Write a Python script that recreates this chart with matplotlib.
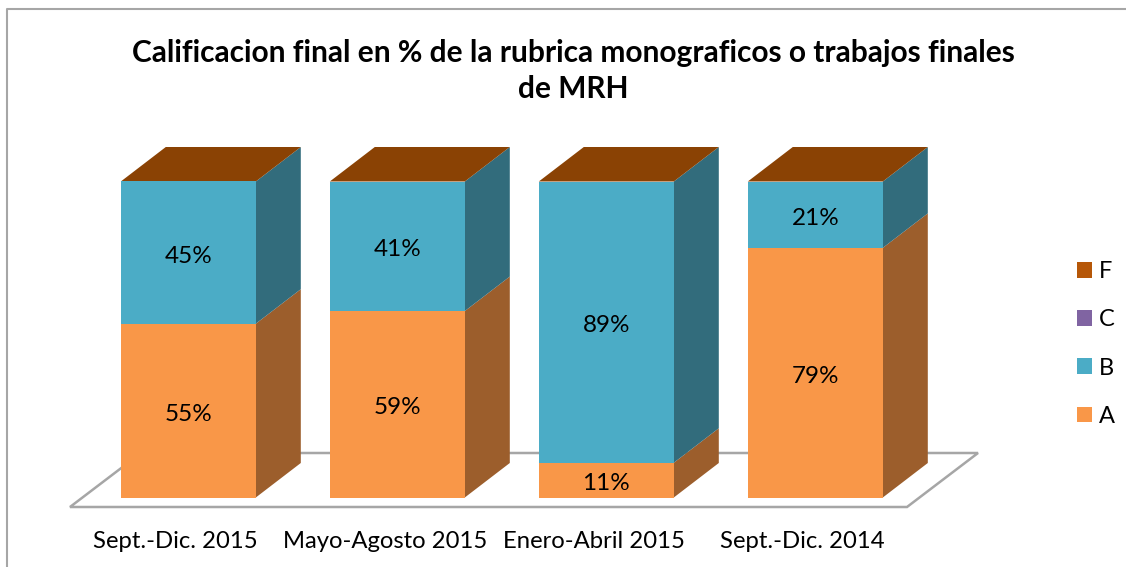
import matplotlib
matplotlib.use("Agg")
from matplotlib import pyplot as plt
from matplotlib.patches import Polygon, Patch

plt.rcParams["font.family"] = ["Lato", "DejaVu Sans"]

# chart values
categories = ["Sept.-Dic. 2015", "Mayo-Agosto 2015", "Enero-Abril 2015", "Sept.-Dic. 2014"]
grade_a = [55, 59, 11, 79]
grade_b = [45, 41, 89, 21]
grade_c = [0, 0, 0, 0]
grade_f = [0, 0, 0, 0]
series_names = ["A", "B", "C", "F"]
title = "Calificacion final en % de la rubrica monograficos o trabajos finales\nde MRH"

# colours
front = {"A": "#F99748", "B": "#4BACC6", "C": "#8064A2", "F": "#B65708"}
side = {"A": "#9C5E2C", "B": "#326C7C"}
top_colour = "#8A4204"
grey = "#A6A6A6"

# pixel layout of the original picture
W, H = 1126, 567
px_cat = 209.0      # px between categories
px_pct = 3.16       # px per percent
x0_px, y0_px = 188.3, 497.5

fig = plt.figure(figsize=(W / 100, H / 100), dpi=100)
ax = fig.add_axes([0, 0, 1, 1])
ax.set_xlim(-x0_px / px_cat, (W - x0_px) / px_cat)
ax.set_ylim(-(H - y0_px) / px_pct, y0_px / px_pct)
ax.axis("off")

bar_w = 135 / px_cat
dx = 45 / px_cat    # depth of the fake 3d
dy = 34.5 / px_pct
label_shift = 3.5 / px_pct  # labels sit a bit under the middle of the segment


def px(x, y):
    # picture pixel to data position
    return (x - x0_px) / px_cat, (y0_px - y) / px_pct


# chart frame, only left and top are visible
ax.plot(*zip(px(7, H), px(7, 9), px(W, 9)), color=grey, lw=1.5, solid_capstyle="butt", zorder=1)

# floor
floor = [px(70, 507), px(907, 507), px(978, 453), px(141, 453)]
ax.add_patch(Polygon(floor, closed=True, fc="white", ec=grey, lw=1.8, joinstyle="miter", zorder=2))

for i, cat in enumerate(categories):
    l = i - bar_w / 2
    r = i + bar_w / 2
    bottom = 0
    for name, vals in (("A", grade_a), ("B", grade_b)):
        v = vals[i]
        ax.bar(i, v, bar_w, bottom=bottom, color=front[name], lw=0, zorder=4)
        ax.add_patch(Polygon([(r, bottom), (r + dx, bottom + dy), (r + dx, bottom + v + dy), (r, bottom + v)],
                             closed=True, fc=side[name], lw=0, zorder=3))
        ax.text(i, bottom + v / 2 - label_shift, "%d%%" % v, ha="center", va="center", fontsize=17.5,
                color="black", zorder=5)
        bottom += v
    ax.add_patch(Polygon([(l, bottom), (r, bottom), (r + dx, bottom + dy), (l + dx, bottom + dy)],
                         closed=True, fc=top_colour, lw=0, zorder=3))
    ax.text(i - 0.06, -(542 - y0_px) / px_pct, cat, ha="center", va="center", fontsize=17.2, color="black")

ax.text(*px(573, 71), title, ha="center", va="center", fontsize=21.5, fontweight="bold", color="black", linespacing=1.38)

# legend, top entry is the last series
handles = [Patch(fc=front[n], lw=0) for n in series_names][::-1]
ax.legend(handles, series_names[::-1], loc="center left", bbox_to_anchor=(1077 / W, 1 - 344 / H),
          frameon=False, fontsize=17, handlelength=0.64, handleheight=0.64, handletextpad=0.3,
          labelspacing=1.15, borderpad=0, borderaxespad=0)

fig.savefig("out.png", dpi=100)
